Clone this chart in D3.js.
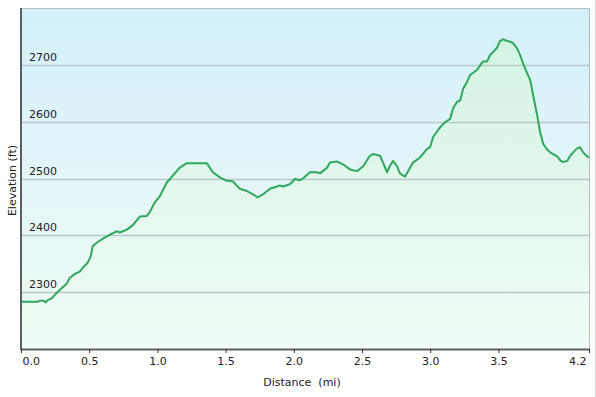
<!DOCTYPE html>
<html>
<head>
<meta charset="utf-8">
<script src="https://cdn.jsdelivr.net/npm/d3@7"></script>
<style>
  body { margin: 0; background: #fff; }
  svg { display: block; font-family: "DejaVu Sans", Verdana, sans-serif; }
</style>
</head>
<body>
<svg id="chart" width="596" height="397"></svg>
<script>
// distance along the trail (mi) and elevation (ft)
const distances = [0.000,0.123,0.137,0.167,0.181,0.196,0.225,0.262,0.298,0.335,0.357,0.394,0.431,0.453,0.482,0.489,
  0.511,0.526,0.555,0.599,0.651,0.702,0.724,0.776,0.820,0.871,0.922,0.944,0.981,1.018,1.069,1.113,1.164,1.216,
  1.311,1.362,1.406,1.458,1.509,1.553,1.604,1.656,1.700,1.737,1.773,1.825,1.876,1.898,1.920,1.971,2.008,2.045,
  2.067,2.118,2.170,2.192,2.243,2.265,2.316,2.360,2.412,2.463,2.507,2.558,2.580,2.632,2.654,2.683,2.705,2.727,
  2.756,2.778,2.815,2.874,2.925,2.977,2.999,3.021,3.072,3.109,3.146,3.167,3.197,3.219,3.241,3.270,3.292,3.343,
  3.387,3.417,3.439,3.490,3.512,3.534,3.563,3.585,3.607,3.637,3.659,3.681,3.711,3.733,3.755,3.784,3.806,3.828,
  3.857,3.879,3.901,3.931,3.953,3.974,4.004,4.026,4.048,4.077,4.099,4.121,4.150,4.164]
const elevations = [2283,2283,2285,2285,2282,2286,2289,2299,2307,2315,2325,2332,2336,2343,2350,2352,
  2363,2381,2387,2394,2401,2407,2405,2410,2418,2433,2434,2441,2458,2469,2493,2505,2519,2527,
  2527,2527,2511,2502,2496,2495,2482,2478,2472,2467,2472,2482,2486,2488,2486,2490,2499,2497,
  2500,2511,2511,2509,2519,2528,2530,2525,2516,2513,2521,2540,2543,2540,2528,2511,2522,2531,
  2522,2509,2503,2528,2537,2552,2555,2573,2590,2599,2605,2623,2635,2637,2658,2670,2682,2691,
  2706,2706,2717,2730,2742,2745,2742,2741,2738,2729,2717,2702,2685,2673,2646,2611,2581,2561,
  2551,2546,2543,2539,2532,2529,2531,2540,2546,2553,2555,2546,2539,2537]
const xTicks = [0,0.5,1,1.5,2,2.5,3,3.5,4.164]
const yTicks = [2300,2400,2500,2600,2700]

const margin = {top: 8, right: 7, bottom: 48, left: 21}
const width = 596 - margin.left - margin.right,
      height = 397 - margin.top - margin.bottom

const profile = distances.map(function(d,i){ return [d, elevations[i]] })

let svg = d3.select("#chart")

let defs = svg.append("defs")
let bg = defs.append("linearGradient").attr("id","bg").attr("x1",0).attr("y1",0).attr("x2",0).attr("y2",1)
bg.append("stop").attr("offset","0%").attr("stop-color","#d3f0fb")
bg.append("stop").attr("offset","55%").attr("stop-color","#e4f6f8")
bg.append("stop").attr("offset","100%").attr("stop-color","#eefbf4")
let fill = defs.append("linearGradient").attr("id","fill").attr("gradientUnits","userSpaceOnUse")
  .attr("x1",0).attr("y1",0).attr("x2",0).attr("y2",height)
fill.append("stop").attr("offset","0%").attr("stop-color","#d2f3e2")
fill.append("stop").attr("offset","100%").attr("stop-color","#f0fcf5")

// faint frame line at the right edge of the picture
svg.append("line").attr("x1",595.5).attr("x2",595.5).attr("y1",0).attr("y2",397)
  .attr("stroke","#d8d8d8")

let chart = svg.append("g")
  .attr("transform","translate(" + margin.left + "," + margin.top + ")")

let x = d3.scaleLinear().domain([0, 4.164]).range([0, width])
let y = d3.scaleLinear().domain([2200, 2800]).range([height, 0])

chart.append("rect").attr("width",width).attr("height",height).attr("fill","url(#bg)")

// area under the profile
chart.append("path")
  .datum(profile)
  .attr("fill","url(#fill)")
  .attr("d", d3.area().x(function(d){return x(d[0])}).y0(height).y1(function(d){return y(d[1])}))

// grid lines + labels sitting just above them
chart.selectAll(".grid").data(yTicks).enter().append("line")
  .attr("x1",0).attr("x2",width)
  .attr("y1",function(d){return Math.round(y(d))+0.5}).attr("y2",function(d){return Math.round(y(d))+0.5})
  .attr("stroke","#b9c6ca").attr("stroke-width",1.5)
chart.selectAll(".ylab").data(yTicks).enter().append("text")
  .attr("x",8).attr("y",function(d){return y(d)-4})
  .attr("font-size","11px").attr("fill","#222")
  .text(function(d){return d})

chart.append("path")
  .datum(profile)
  .attr("fill","none").attr("stroke","#2ea85a").attr("stroke-width",2).attr("stroke-linejoin","round")
  .attr("d", d3.line().x(function(d){return x(d[0])}).y(function(d){return y(d[1])}))

// frame: light top/right, dark left/bottom
chart.append("line").attr("x1",0).attr("x2",width).attr("y1",0.5).attr("y2",0.5).attr("stroke","#b4bcc0")
chart.append("line").attr("x1",width+0.5).attr("x2",width+0.5).attr("y1",0).attr("y2",height).attr("stroke","#b4bcc0")
chart.append("line").attr("x1",0).attr("x2",0).attr("y1",0).attr("y2",height+1).attr("stroke","#5a5f62").attr("stroke-width",2)

let xAxis = chart.append("g")
  .attr("transform","translate(0," + height + ")")
  .call(d3.axisBottom(x).tickValues(xTicks).tickFormat(d3.format(".1f")).tickSize(4).tickPadding(4))
xAxis.select(".domain").attr("stroke","#5a5f62").attr("stroke-width",2).attr("d","M0,0.5H" + (width+1))
xAxis.selectAll(".tick line").attr("stroke","#333")
xAxis.selectAll(".tick text").attr("font-size","11px").attr("fill","#222")
  .attr("font-family","DejaVu Sans, Verdana, sans-serif")
  .attr("text-anchor", function(d,i){ return i === 0 ? "start" : (i === xTicks.length-1 ? "end" : "middle") })
  .attr("dx", function(d,i){ return i === 0 ? 1 : (i === xTicks.length-1 ? -3 : 0) })

chart.append("text")
  .attr("x", 281).attr("y", height + 37)
  .attr("text-anchor","middle").attr("font-size","11px").attr("fill","#222")
  .attr("xml:space","preserve")
  .text("Distance  (mi)")

chart.append("text")
  .attr("transform","translate(" + (-5) + "," + (height/2 + 2) + ") rotate(-90)")
  .attr("text-anchor","middle").attr("font-size","11px").attr("fill","#222")
  .text("Elevation (ft)")
</script>
</body>
</html>
